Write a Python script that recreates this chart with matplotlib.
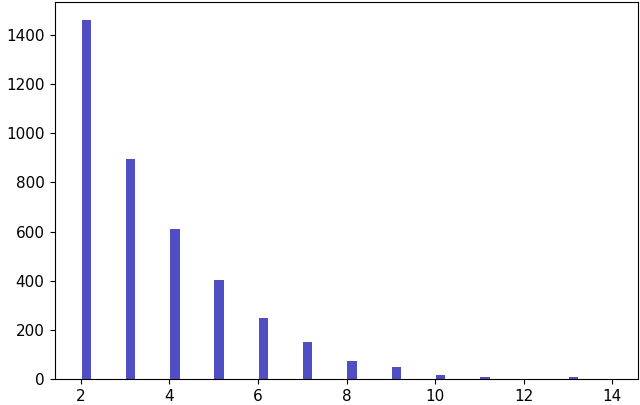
import numpy as np
import matplotlib
matplotlib.use("Agg")
import matplotlib.pyplot as plt

# value -> how many times it occurs
values = [2, 3, 4, 5, 6, 7, 8, 9, 10, 11, 12, 13, 14]
counts = [1461, 897, 609, 405, 247, 150, 74, 51, 16, 8, 0, 8, 1]

data = np.repeat(values, counts)

fig = plt.figure(figsize=(6.4, 4.05), dpi=100)
ax = fig.add_axes([0.086, 0.064, 0.911, 0.931])
ax.hist(data, bins=48, range=(2, 14), color='#0504aa', alpha=0.7, rwidth=0.85)
ax.tick_params(labelsize=11, pad=4)

fig.savefig("out.png", dpi=100)
